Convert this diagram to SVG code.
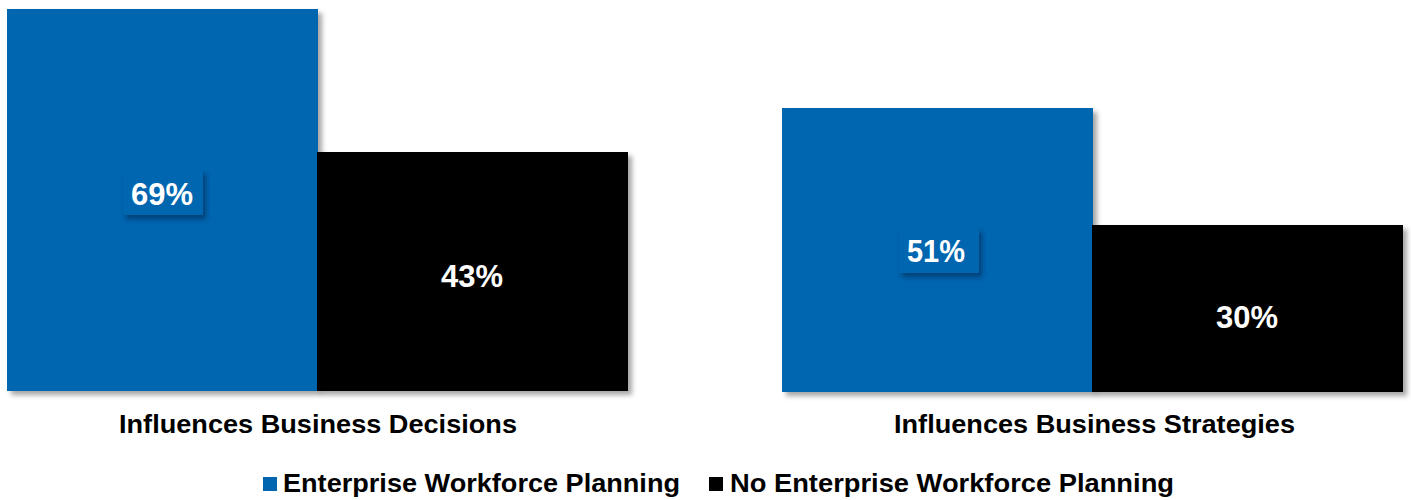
<svg xmlns="http://www.w3.org/2000/svg" width="1411" height="500" viewBox="0 0 1411 500">
<style>
.t{font-family:"Liberation Sans",Arial,sans-serif;font-weight:bold}
.val{font-size:31px;fill:#fff;text-anchor:middle}
.cat{font-size:26px;fill:#000;text-anchor:middle}
.leg{font-size:26px;fill:#000}
.blue{fill:#0066b0}
.black{fill:#000}
</style>
<defs>
<filter id="sh" x="-10%" y="-10%" width="120%" height="120%">
<feDropShadow dx="4" dy="4" stdDeviation="2.5" flood-color="#000" flood-opacity="0.35"/>
</filter>
<filter id="lsh" x="-20%" y="-20%" width="150%" height="160%">
<feDropShadow dx="3" dy="4" stdDeviation="2.5" flood-color="#002850" flood-opacity="0.6"/>
</filter>
</defs>
<g id="bar-decisions-ewp">
<rect class="blue" x="7" y="9" width="311" height="382" filter="url(#sh)"/>
</g>
<g id="bar-decisions-no">
<rect class="black" x="317" y="152" width="311" height="239" filter="url(#sh)"/>
<text class="t val" x="472" y="287" textLength="62" lengthAdjust="spacingAndGlyphs">43%</text>
</g>
<g id="label-69">
<rect class="blue" x="123" y="170" width="80" height="45" filter="url(#lsh)"/>
<text class="t val" x="162" y="205" textLength="62" lengthAdjust="spacingAndGlyphs">69%</text>
</g>
<g id="bar-strategies-ewp">
<rect class="blue" x="782" y="108" width="311" height="284" filter="url(#sh)"/>
</g>
<g id="bar-strategies-no">
<rect class="black" x="1092" y="225" width="311" height="167" filter="url(#sh)"/>
<text class="t val" x="1247" y="328" textLength="62" lengthAdjust="spacingAndGlyphs">30%</text>
</g>
<g id="label-51">
<rect class="blue" x="899" y="228" width="80" height="45" filter="url(#lsh)"/>
<text class="t val" x="936" y="262" textLength="58" lengthAdjust="spacingAndGlyphs">51%</text>
</g>
<g id="cat-decisions"><text class="t cat" x="318" y="433" textLength="398" lengthAdjust="spacingAndGlyphs">Influences Business Decisions</text></g>
<g id="cat-strategies"><text class="t cat" x="1094.5" y="433" textLength="401" lengthAdjust="spacingAndGlyphs">Influences Business Strategies</text></g>
<g id="legend">
<rect class="blue" x="263" y="477" width="14" height="14"/>
<text class="t leg" x="283" y="492" textLength="397" lengthAdjust="spacingAndGlyphs">Enterprise Workforce Planning</text>
<rect class="black" x="709" y="477" width="14" height="14"/>
<text class="t leg" x="730" y="492" textLength="444" lengthAdjust="spacingAndGlyphs">No Enterprise Workforce Planning</text>
</g>
<g id="connectors"/>
</svg>
